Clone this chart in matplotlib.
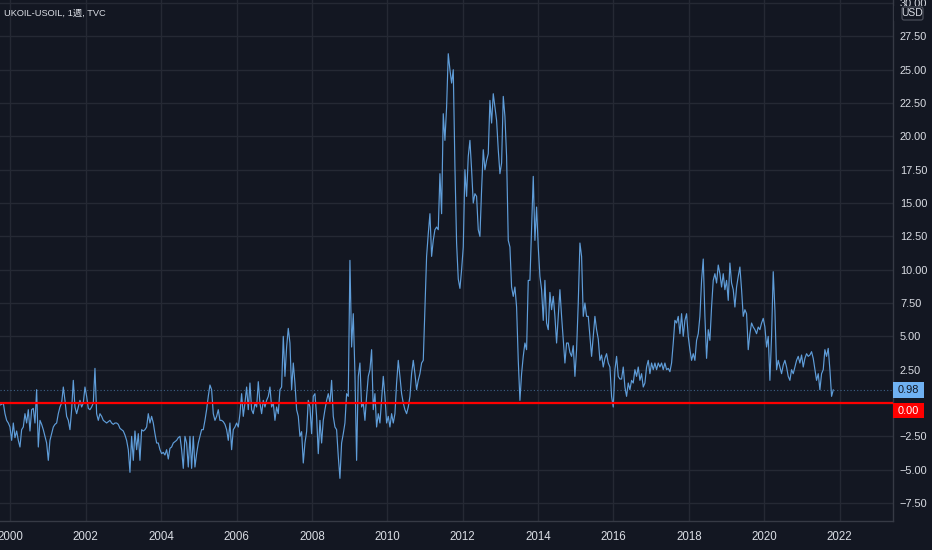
import numpy as np
import pandas as pd
import matplotlib
matplotlib.use("Agg")
import matplotlib.pyplot as plt
from matplotlib.patches import Rectangle, FancyBboxPatch
from matplotlib.transforms import IdentityTransform
from matplotlib import font_manager as fm

# ---------------- data (weekly spread, sampled ~every 16 days) ----------------
v_1999_2007 = [
    -0.15, -0.1, 0.0, -0.8, -1.3, -1.5, -1.8, -2.8, -1.5, -2.6,
    -2.1, -2.8, -3.3, -2.0, -1.8, -0.8, -1.5, -0.5, -2.1, -0.5,
    -0.4, -1.5, 1.0, -3.3, -1.3, -1.6, -2.0, -2.5, -3.0, -4.3,
    -2.8, -2.3, -1.8, -1.6, -1.5, -0.8, -0.3, 0.0, 1.2, 0.2,
    -1.0, -1.3, -2.0, -0.5, 1.7, -0.3, -0.8, -0.3, 0.2, -0.3,
    0.0, 1.2, 0.5, -0.4, -0.5, -0.3, 0.0, 2.6, -0.8, -1.3,
    -0.8, -1.0, -1.3, -1.4, -1.5, -1.4, -1.3, -1.5, -1.6, -1.5,
    -1.5, -1.6, -1.9, -2.0, -2.1, -2.4, -2.8, -3.5, -5.2, -2.5,
    -4.3, -2.1, -3.5, -2.3, -4.3, -2.0, -2.1, -2.0, -1.8, -0.8,
    -1.5, -1.0, -1.5, -2.3, -3.0, -3.0, -3.5, -3.8, -3.7, -3.9,
    -3.5, -4.2, -3.4, -3.3, -3.0, -2.9, -2.8, -2.6, -2.5, -3.5,
    -4.9, -2.5, -3.0, -4.8, -2.5, -4.9, -2.5, -4.8, -3.8, -3.0,
    -2.5, -2.0, -2.0, -1.3, -0.5, 0.5, 1.35, 1.0, -0.8, -1.3,
    -1.0, -0.5, -1.3, -1.3, -1.4, -1.6, -2.0, -2.8, -1.5, -3.5,
    -2.0, -1.8, -1.5, -1.8, -0.8, 0.7, -1.0, 0.0, 1.2, -0.5,
    1.5, -0.5, -0.8, 0.0, -0.3, 1.6, 0.0, -0.8, 0.2, -0.3,
    0.2, 0.5, 1.2, -0.3, 0.0, -1.3, -0.3, -0.8, 1.0, 1.2,
    5.0, 2.0, 4.2, 5.6, 4.5, 1.0, 3.0, 1.5, -0.5, -1.0,
]
v_2007_2010 = [
    -2.5, -2.15, -4.5, -3.0, -2.15, 0.2, -0.3, -2.3, 0.5, 0.7,
    -1.0, -3.8, -1.3, -3.0, -1.3, -0.5, 0.2, 0.7, 0.0, 1.7,
    -1.0, -1.8, -2.0, -4.0, -5.65, -3.0, -2.3, -1.5, 0.7, 0.5,
    10.7, 4.2, 6.7, 2.2, -4.3, 2.0, 3.0, -0.3, 0.0, -1.3,
    0.5, 2.0, 2.5, 4.0, -0.5, 0.7, -1.8, -0.8, -1.5, 0.2,
    2.0, 0.5, -1.5, -1.0, -1.8, -0.8, -1.5, -0.8, 1.5, 3.2,
    2.0,
]
v_2010_2015 = [
    0.7, 0.0, -0.5, -0.8, -0.3, 0.5, 2.2, 3.2, 2.2, 1.0,
    1.7, 2.2, 3.0, 3.2, 7.2, 11.0, 12.7, 14.2, 11.0, 12.2,
    13.0, 13.2, 13.0, 17.2, 14.2, 21.7, 19.7, 22.2, 26.2, 25.0,
    24.0, 25.0, 17.7, 12.0, 9.3, 8.6, 10.0, 11.7, 17.5, 15.5,
    18.5, 19.7, 17.5, 15.0, 15.7, 15.5, 13.0, 12.5, 16.0, 19.0,
    17.5, 18.2, 18.7, 22.7, 21.0, 23.2, 22.2, 21.2, 19.0, 17.2,
    18.0, 23.0, 21.5, 18.5, 12.2, 11.7, 8.7, 8.0, 8.7, 7.2,
    3.2, 0.2, 2.2, 3.5, 4.5, 4.0, 9.2, 9.2, 13.0, 17.0,
    12.2, 14.7, 11.7, 9.5, 8.5, 6.2, 9.2, 6.0, 5.5, 8.3,
    7.0, 8.0, 6.5, 4.5, 6.5, 8.5, 6.5, 4.8, 3.0, 4.5,
    4.5, 3.8, 3.5, 4.3, 2.0, 4.0, 7.5, 12.0, 11.0, 6.5,
    7.5, 6.5, 6.5, 5.0, 3.5, 5.0, 6.5, 5.5, 4.8,
]
v_2015_2018 = [
    3.2, 3.6, 2.7, 3.35, 3.7, 3.0, 2.7, 0.5, -0.3, 2.5,
    3.5, 2.0, 1.8, 1.8, 2.7, 1.2, 0.5, 1.5, 1.0, 1.7,
    1.5, 2.5, 2.0, 2.7, 1.7, 2.2, 1.2, 1.5, 2.7, 3.2,
    2.2, 3.0, 2.5, 3.0, 2.5, 3.0, 2.7, 3.0, 2.5, 3.0,
    2.5, 2.6, 2.35, 3.0, 4.5, 6.2, 6.0, 6.5, 5.2, 6.7,
    5.0, 6.2, 6.7, 5.0, 4.0, 3.2, 3.7, 3.2, 4.7, 5.2,
]
v_2018_2021 = [
    6.5, 9.2, 10.8, 6.5, 3.35, 5.5, 4.7, 7.2, 9.2, 9.7,
    9.0, 10.35, 9.7, 8.7, 9.7, 8.5, 9.2, 7.7, 10.5, 9.0,
    8.5, 7.2, 8.7, 9.5, 10.2, 8.5, 6.5, 7.0, 6.7, 4.0,
    5.2, 6.0, 5.7, 5.5, 5.2, 5.7, 5.5, 6.0, 6.35, 5.7,
    4.2, 5.0, 1.7, 5.0, 9.85, 7.0, 2.5, 3.2, 2.7, 2.2,
    2.85, 3.2, 2.7, 2.0, 1.7, 2.5, 2.2, 2.7, 3.2, 3.5,
    3.0, 3.6, 2.7, 3.35, 3.7, 3.5, 3.6, 3.85, 3.35, 2.5,
    1.7, 2.2, 1.0, 2.2, 2.5, 4.0, 3.5, 4.1, 2.5, 0.5,
    0.98,
]
values = v_1999_2007 + v_2007_2010 + v_2010_2015 + v_2015_2018 + v_2018_2021
first_date = "1999-09-23"
last_date = "2021-10-30"
year_ticks = list(range(2000, 2023, 2))
price_ticks = [-7.5, -5.0, -2.5, 0.0, 2.5, 5.0, 7.5, 10.0, 12.5, 15.0,
               17.5, 20.0, 22.5, 25.0, 27.5, 30.0]
title = "UKOIL-USOIL, 1週, TVC"

dates = pd.date_range(first_date, last_date, periods=len(values))
last = values[-1]

# ---------------- style ----------------
BG = "#131722"
GRID = "#252934"
LINE = "#5f9dd9"
TXT = "#dadde4"
names = {f.name for f in fm.fontManager.ttflist}
narrow = "Liberation Sans Narrow" in names
base = "Liberation Sans Narrow" if narrow else "Liberation Sans"
YSZ = 9.0 if narrow else 7.9
XSZ = 9.4 if narrow else 8.3
TSZ = 7.3 if narrow else 6.7


def dyear(y):
    yr = int(np.floor(y))
    a = pd.Timestamp(yr, 1, 1)
    b = pd.Timestamp(yr + 1, 1, 1)
    return a + (b - a) * (y - yr)


W, H = 932, 550
fig = plt.figure(figsize=(W / 100, H / 100), dpi=100, facecolor=BG)
ax = fig.add_axes([0, 29 / H, 893 / W, 521 / H])
ax.set_facecolor(BG)

ax.plot(dates, values, color=LINE, lw=0.85, zorder=3)
ax.axhline(0, color="#ff0000", lw=1.6, zorder=4)
ax.axhline(last, color=LINE, lw=0.8, ls=(0, (1, 2)), alpha=0.55, zorder=2)

ax.set_ylim(-8.85, 30.23)
ax.set_xlim(dyear(1999.7268), dyear(2023.414))

ax.set_xticks([pd.Timestamp(y, 1, 1) for y in year_ticks])
ax.set_xticklabels([str(y) for y in year_ticks])
ax.yaxis.tick_right()
ax.set_yticks(price_ticks)
ax.set_yticklabels(["" if t == 0 else f"{t:.2f}".replace("-", "\u2212") for t in price_ticks])
ax.tick_params(axis="both", length=0, colors=TXT)
ax.tick_params(axis="y", pad=5, labelsize=YSZ)
ax.tick_params(axis="x", pad=7, labelsize=XSZ)
for lab in ax.get_xticklabels() + ax.get_yticklabels():
    lab.set_fontfamily(base)
ax.grid(True, color=GRID, lw=1.0, zorder=1)
for s in ("top", "left"):
    ax.spines[s].set_visible(False)
for s in ("right", "bottom"):
    ax.spines[s].set_color("#363a45")
    ax.spines[s].set_linewidth(1.0)

# title
fig.text(4 / W, 1 - 13 / H, title, color=TXT, fontsize=TSZ,
         family=[base, "Noto Sans CJK JP"], va="center", ha="left")

# price labels on the right axis
fig.canvas.draw()
ident = IdentityTransform()
y_last = ax.transData.transform((0, last))[1]
y_zero = ax.transData.transform((0, 0))[1]
bx0, bw = 893, 31
fig.patches.append(Rectangle((bx0, y_last - 8), bw, 16, transform=ident,
                             facecolor="#6fb1f2", edgecolor="none", zorder=10))
fig.text(bx0 + bw / 2, y_last, f"{last:.2f}", transform=ident, color="#131722",
         fontsize=YSZ, family=base, ha="center", va="center", zorder=11)
fig.patches.append(Rectangle((bx0, y_zero - 15), bw, 15, transform=ident,
                             facecolor="#ff0000", edgecolor="none", zorder=10))
fig.text(bx0 + bw / 2, y_zero - 7.5, "0.00", transform=ident, color="white",
         fontsize=YSZ, family=base, ha="center", va="center", zorder=11)

# currency box at top right (covers most of the top price label, as in TradingView)
fig.patches.append(Rectangle((894, H - 21), 38, 15, transform=ident,
                             facecolor=BG, edgecolor="none", zorder=9))
fig.patches.append(FancyBboxPatch((902, H - 20), 21, 13, transform=ident,
                                  boxstyle="round,pad=0,rounding_size=2",
                                  facecolor=BG, edgecolor="#50535e", lw=0.8, zorder=10))
fig.text(912.5, H - 13.5, "USD", transform=ident, color=TXT, fontsize=7.5,
         family=base, ha="center", va="center", zorder=11)

fig.savefig("out.png", dpi=100, facecolor=BG)
